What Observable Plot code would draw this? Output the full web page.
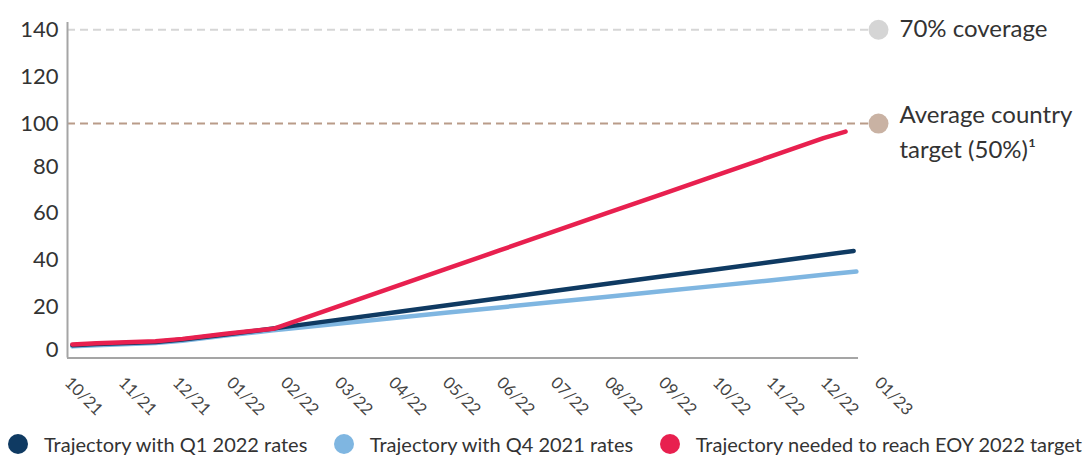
<!DOCTYPE html>
<html>
<head>
<meta charset="utf-8">
<script src="https://cdn.jsdelivr.net/npm/d3@7"></script>
<script src="https://cdn.jsdelivr.net/npm/@observablehq/plot@0.6"></script>
<style>
  html, body { margin: 0; padding: 0; background: #fff; }
  body { width: 1086px; height: 458px; overflow: hidden; font-family: Lato, "Open Sans", sans-serif; }
  #chart svg { display: block; }
  .legend { display: flex; justify-content: space-between; align-items: center;
            margin-top: 12px; padding-left: 8px; padding-right: 4px; height: 24px;
            font-size: 20px; color: #333; }
  .legend .item { display: flex; align-items: center; white-space: nowrap; }
  .legend .sw { width: 20px; height: 20px; border-radius: 50%; margin-right: 16px; flex: none; }
</style>
</head>
<body>
<div id="chart"></div>
<div class="legend" id="legend"></div>
<script>
// ---- Data ----
const monthLabels = ["10/21","11/21","12/21","01/22","02/22","03/22","04/22","05/22","06/22","07/22","08/22","09/22","10/22","11/22","12/22","01/23"];
const yTickValues = [0, 20, 40, 60, 80, 100, 120, 140];

// month offsets (0 = 10/21) and values
const q1Months = [0.09,0.54,1.63,2.13,2.93,3.81,4,5,6,7,8,9,10,11,12,13,14,14.56];
const q1Values = [5.5,6.0,6.9,7.9,10.1,12.6,13.2,16.3,19.3,22.4,25.5,28.6,31.7,34.8,37.8,40.9,44.0,45.7];

const q4Months = [0.09,0.54,1.63,2.13,2.93,3.81,4,5,6,7,8,9,10,11,12,13,14,14.61];
const q4Values = [5.0,5.5,6.4,7.4,9.6,11.9,12.3,14.6,17.0,19.3,21.6,23.9,26.2,28.5,30.8,33.1,35.5,36.9];

const eoyMonths = [0.09,0.54,1.63,2.13,2.93,3.81,4,5,6,7,8,9,10,11,12,13,14,14.41];
const eoyValues = [5.8,6.3,7.2,8.2,10.4,12.5,14.0,22.0,29.9,37.9,45.9,53.9,61.9,69.8,77.8,85.8,93.8,96.6];

const refValues = [140, 100];
const refLabels = ["70% coverage", "Average country\ntarget (50%)¹"];

const seriesNames = ["Trajectory with Q1 2022 rates", "Trajectory with Q4 2021 rates", "Trajectory needed to reach EOY 2022 target"];
const seriesColors = ["#0f3a62", "#7fb6e1", "#e8204f"];
const refLineColors = ["#d6d6d6", "#b99c89"];
const refDotColors = ["#d5d5d5", "#c9b2a3"];

// ---- Build tables ----
const toRows = (ms, vs) => ms.map((m, i) => ({m, v: vs[i]}));
const q1 = toRows(q1Months, q1Values);
const q4 = toRows(q4Months, q4Values);
const eoy = toRows(eoyMonths, eoyValues);
const refs = refValues.map((v, i) => ({v, label: refLabels[i], line: refLineColors[i], dot: refDotColors[i]}));

const xMax = 15.02;
const yMax = 143.1;
const axisEnd = 14.65;
const textColor = "#333333";
const axisColor = "#a5a5a5";
const annFont = 24;

const chart = Plot.plot({
  width: 1086,
  height: 420,
  marginLeft: 67,
  marginRight: 208,
  marginTop: 22,
  marginBottom: 62.4,
  x: {domain: [0, xMax], axis: null},
  y: {domain: [0, yMax], axis: null},
  style: {fontFamily: "Lato, 'Open Sans', sans-serif", background: "transparent", overflow: "visible"},
  marks: [
    Plot.ruleY(refs, {y: "v", x1: 0, x2: xMax, stroke: "line", strokeWidth: 2, strokeDasharray: "8,5"}),
    Plot.ruleX([0], {y1: 0, y2: yMax, stroke: axisColor, strokeWidth: 2}),
    Plot.ruleY([0], {x1: 0, x2: axisEnd, stroke: axisColor, strokeWidth: 2}),
    Plot.line(q4, {x: "m", y: "v", stroke: seriesColors[1], strokeWidth: 4.5, strokeLinecap: "round", strokeLinejoin: "round"}),
    Plot.line(q1, {x: "m", y: "v", stroke: seriesColors[0], strokeWidth: 4.5, strokeLinecap: "round", strokeLinejoin: "round"}),
    Plot.line(eoy, {x: "m", y: "v", stroke: seriesColors[2], strokeWidth: 4.5, strokeLinecap: "round", strokeLinejoin: "round"}),
    Plot.dot(refs, {x: xMax, y: "v", r: 10, fill: "dot", stroke: null}),
    Plot.text(refs.slice(0, 1), {x: xMax, y: "v", text: "label", dx: 21, textAnchor: "start", fontSize: annFont, fill: textColor}),
    Plot.text(refs.slice(1), {x: xMax, y: "v", text: "label", dx: 21, dy: 6, textAnchor: "start", lineHeight: 1.42, fontSize: annFont, fill: textColor}),
    // y tick labels
    Plot.text(yTickValues.filter(d => d >= 100), {x: 0, y: d => d, text: d => String(d), dx: -9, textAnchor: "end", fontSize: 22, fill: textColor}),
    Plot.text(yTickValues.filter(d => d > 0 && d < 100), {x: 0, y: d => d, text: d => String(d), dx: -9, dy: -4, textAnchor: "end", fontSize: 22, fill: textColor}),
    Plot.text(yTickValues.filter(d => d === 0), {x: 0, y: d => d, text: d => String(d), dx: -9, dy: -8, textAnchor: "end", fontSize: 22, fill: textColor}),
    // x tick labels
    Plot.text(monthLabels, {x: (d, i) => i, y: 0, text: d => d, dy: 22, rotate: 45, textAnchor: "start", fontSize: 16.5, fill: "#444"})
  ]
});
document.getElementById("chart").appendChild(chart);

const legend = document.getElementById("legend");
seriesNames.forEach((name, i) => {
  const item = document.createElement("div");
  item.className = "item";
  const sw = document.createElement("span");
  sw.className = "sw";
  sw.style.background = seriesColors[i];
  const label = document.createElement("span");
  label.textContent = name;
  item.appendChild(sw);
  item.appendChild(label);
  legend.appendChild(item);
});
</script>
</body>
</html>
